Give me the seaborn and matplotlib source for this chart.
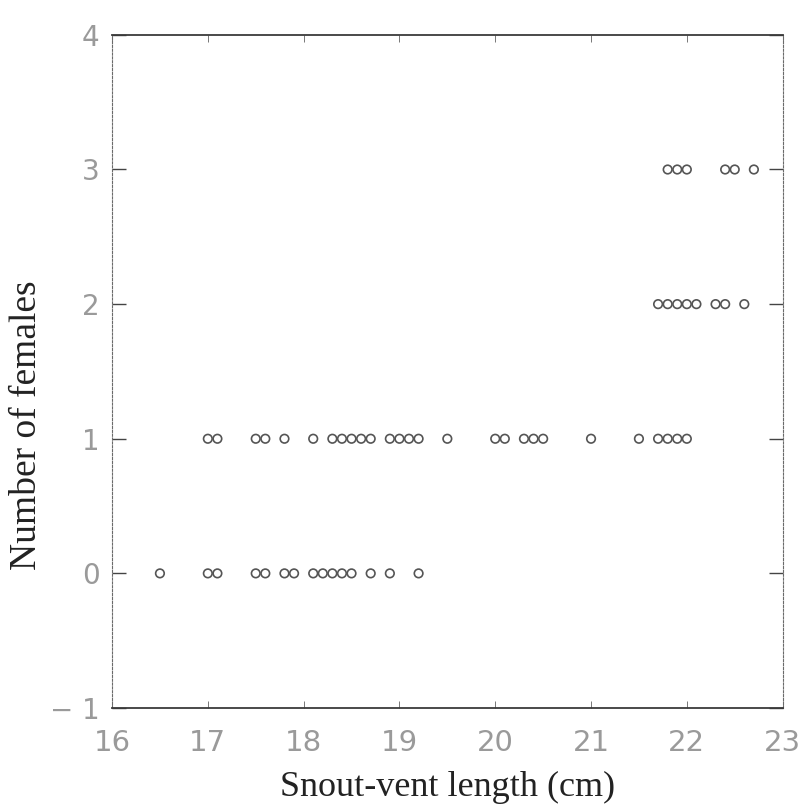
import matplotlib
matplotlib.use("Agg")
import matplotlib.pyplot as plt
import pandas as pd
import seaborn as sns

# Snout-vent length (cm) of each male, grouped by the number of females held
svl_0_females = [16.5, 17.0, 17.1, 17.5, 17.6, 17.8, 17.9, 18.1, 18.2, 18.3,
                 18.4, 18.5, 18.7, 18.9, 19.2]
svl_1_female = [17.0, 17.1, 17.5, 17.6, 17.8, 18.1, 18.3, 18.4, 18.5, 18.6,
                18.7, 18.9, 19.0, 19.1, 19.2, 19.5, 20.0, 20.1, 20.3, 20.4,
                20.5, 21.0, 21.5, 21.7, 21.8, 21.9, 22.0]
svl_2_females = [21.7, 21.8, 21.9, 22.0, 22.1, 22.3, 22.4, 22.6]
svl_3_females = [21.8, 21.9, 22.0, 22.4, 22.5, 22.7]
female_counts = [0, 1, 2, 3]

x_ticks = [16, 17, 18, 19, 20, 21, 22, 23]
y_ticks = [-1, 0, 1, 2, 3, 4]
x_label = "Snout-vent length (cm)"
y_label = "Number of females"

groups = [svl_0_females, svl_1_female, svl_2_females, svl_3_females]
df = pd.DataFrame({
    "svl": [v for g in groups for v in g],
    "females": [n for n, g in zip(female_counts, groups) for _ in g],
})

sns.set_theme(style="white")
plt.rcParams["font.family"] = ["DejaVu Sans"]

fig = plt.figure(figsize=(8.06, 8.11), dpi=100)
ax = fig.add_axes([0.139, 0.127, 0.832, 0.830])

sns.scatterplot(data=df, x="svl", y="females", ax=ax, marker="o", s=38,
                facecolor="none", edgecolor="#555555", linewidth=1.2,
                legend=False)

ax.set_xlim(16, 23)
ax.set_ylim(-1, 4)
ax.set_xticks(x_ticks)
ax.set_yticks(y_ticks)
ax.set_xticklabels([str(t) for t in x_ticks])
ax.set_yticklabels([str(t).replace("-", "\u2212 ") for t in y_ticks])

for side in ("top", "bottom"):
    ax.spines[side].set_color("#3a3a3a")
    ax.spines[side].set_linewidth(1.3)
for side in ("left", "right"):
    ax.spines[side].set_color("#6a6a6a")
    ax.spines[side].set_linewidth(0.8)
    ax.spines[side].set_linestyle((0, (2, 1.5)))

ax.tick_params(axis="x", direction="in", length=5, width=0.7, color="#777777",
               top=True, bottom=True, labelsize=21, labelcolor="#9a9a9a", pad=15)
ax.tick_params(axis="y", direction="in", length=10, width=1.0, color="#444444",
               left=True, right=True, labelsize=20, labelcolor="#9a9a9a", pad=9)

ax.set_xlabel(x_label, fontsize=26, family="Liberation Serif", color="#222222")
ax.xaxis.set_label_coords(0.5, -0.093)
ax.set_ylabel(y_label, fontsize=27, family="Liberation Serif", color="#222222")
ax.yaxis.set_label_coords(-0.102, 0.42)

fig.savefig("out.png", dpi=100, facecolor="white")
